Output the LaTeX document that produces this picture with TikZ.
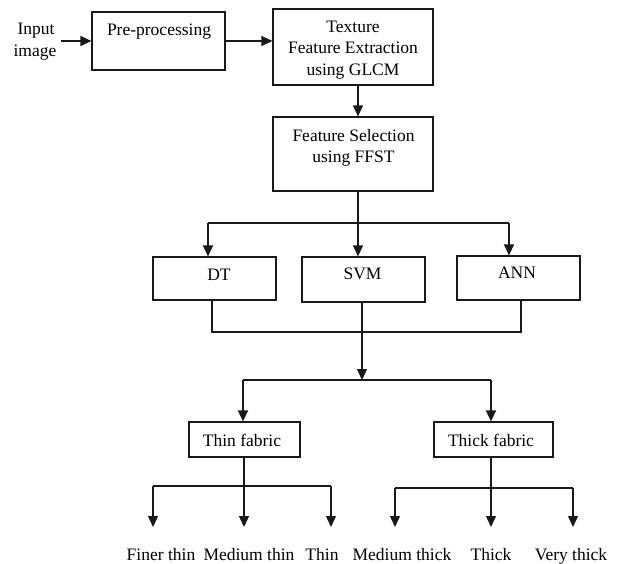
\documentclass[tikz,border=0pt]{standalone}
\usepackage{fontspec}
\setmainfont{Liberation Serif}
\usetikzlibrary{arrows.meta}
\begin{document}
\begin{tikzpicture}[x=1pt,y=-1pt,
  box/.style={draw=black!90, line width=1.2pt, inner sep=0pt, fill=white},
  txt/.style={anchor=base, inner sep=0pt, font=\fontsize{17.5}{21}\selectfont},
  ln/.style={draw=black!90, line width=1.3pt},
  arr/.style={ln, -{Triangle[width=10pt,length=11pt]}}]
\useasboundingbox (0,0) rectangle (619,564);
% boxes
\node[box, minimum width=133pt, minimum height=58pt] (pre) at (158.5,41) {};
\node[box, minimum width=160pt, minimum height=76pt] (tex) at (353,47) {};
\node[box, minimum width=160pt, minimum height=74pt] (fs) at (353,154) {};
\node[box, minimum width=123pt, minimum height=43pt] (dt) at (214.5,278.5) {};
\node[box, minimum width=123pt, minimum height=45pt] (svm) at (363.5,279.5) {};
\node[box, minimum width=123pt, minimum height=44pt] (ann) at (518.5,278) {};
\node[box, minimum width=111pt, minimum height=35pt] (thin) at (244.5,439.5) {};
\node[box, minimum width=119pt, minimum height=35pt] (thick) at (493.5,439.5) {};
% texts
\node[txt] (inp1) at (36,35) {Input};
\node[txt] (inp2) at (35,57) {image};
\node[txt] (pretxt) at (159,36) {Pre-processing};
\node[txt] (tex1) at (353,33) {Texture};
\node[txt] (tex2) at (353,54) {Feature Extraction};
\node[txt] (tex3) at (353,76) {using GLCM};
\node[txt] (fs1) at (353.5,142) {Feature Selection};
\node[txt] (fs2) at (353.5,163) {using FFST};
\node[txt] (dttxt) at (219,281) {DT};
\node[txt] (svmtxt) at (362.5,280) {SVM};
\node[txt] (anntxt) at (517,279) {ANN};
\node[txt] (thintxt) at (242,446) {Thin fabric};
\node[txt] (thicktxt) at (491,446) {Thick fabric};
\node[txt] (l1) at (161,560) {Finer thin};
\node[txt] (l2) at (249,560) {Medium thin};
\node[txt] (l3) at (322,560) {Thin};
\node[txt] (l4) at (402,560) {Medium thick};
\node[txt] (l5) at (491,560) {Thick};
\node[txt] (l6) at (571,560) {Very thick};
% coordinates
\coordinate (a0) at (61,41);
\coordinate (b1) at (358,223);
\coordinate (bl) at (208,223);
\coordinate (br) at (509,223);
\coordinate (c1) at (212,332);
\coordinate (c2) at (521,332);
\coordinate (dm) at (362,380);
\coordinate (d1) at (243,380);
\coordinate (d2) at (491,380);
\coordinate (e1) at (153,486);
\coordinate (e2) at (244,486);
\coordinate (e3) at (331,486);
\coordinate (f1) at (153,527);
\coordinate (f2) at (244,527);
\coordinate (f3) at (331,527);
\coordinate (g1) at (395,488);
\coordinate (g2) at (491,488);
\coordinate (g3) at (573,488);
\coordinate (h1) at (395,527);
\coordinate (h2) at (491,527);
\coordinate (h3) at (573,527);
% connectors
\draw[arr] (a0) -- (pre.west);
\draw[arr] (pre.east) -- (pre.east -| tex.west);
\draw[arr] (tex.south -| b1) -- (fs.north -| b1);
\draw[ln] (fs.south -| b1) -- (b1);
\draw[ln] (bl) -- (br);
\draw[arr] (bl) -- (dt.north -| bl);
\draw[arr] (b1) -- (svm.north -| b1);
\draw[arr] (br) -- (ann.north -| br);
\draw[ln] (dt.south -| c1) -- (c1) -- (c2) -- (ann.south -| c2);
\draw[arr] (svm.south -| dm) -- (dm);
\draw[ln] (d1) -- (d2);
\draw[arr] (d1) -- (thin.north -| d1);
\draw[arr] (d2) -- (thick.north -| d2);
\draw[ln] (e1) -- (e3);
\draw[arr] (thin.south -| e2) -- (f2);
\draw[arr] (e1) -- (f1);
\draw[arr] (e3) -- (f3);
\draw[ln] (g1) -- (g3);
\draw[arr] (thick.south -| g2) -- (h2);
\draw[arr] (g1) -- (h1);
\draw[arr] (g3) -- (h3);
\end{tikzpicture}
\end{document}
